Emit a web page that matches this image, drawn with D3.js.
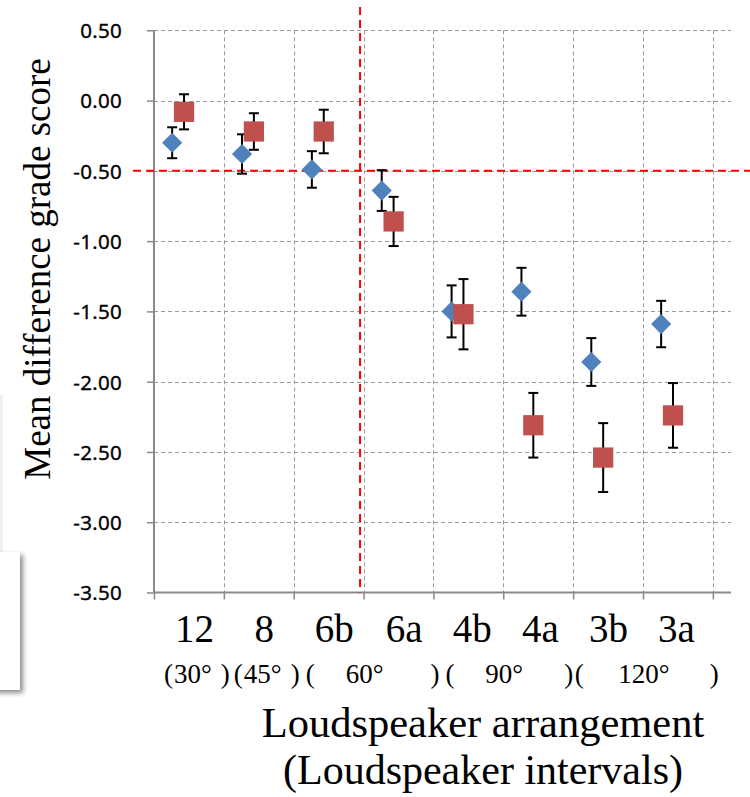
<!DOCTYPE html>
<html>
<head>
<meta charset="utf-8">
<script src="https://cdn.jsdelivr.net/npm/d3@7"></script>
<style>
  body { margin: 0; background: #fff; }
  svg { display: block; }
</style>
</head>
<body>
<div id="chart"></div>
<script>
// chart values
const categories = ["12", "8", "6b", "6a", "4b", "4a", "3b", "3a"];
const intervals = ["30°", "45°", "60°", "90°", "120°"];
const intervalSpans = [[0, 1], [1, 2], [2, 4], [4, 6], [6, 8]];
const blueMeans = [-0.30, -0.38, -0.49, -0.64, -1.50, -1.36, -1.86, -1.59];
const blueErrors = [0.11, 0.14, 0.13, 0.145, 0.185, 0.17, 0.17, 0.165];
const redMeans = [-0.08, -0.22, -0.22, -0.86, -1.52, -2.31, -2.54, -2.24];
const redErrors = [0.125, 0.13, 0.155, 0.175, 0.25, 0.23, 0.245, 0.23];
const yTicks = [0.5, 0, -0.5, -1, -1.5, -2, -2.5, -3, -3.5];
const threshold = -0.5;   // horizontal red line
const splitAt = 2.95;     // vertical red line

function ScoreChart() {
  let params = {
    width: 750,
    height: 797,
    margin: { left: 154, right: 19, top: 30, bottom: 205 }
  };

  function my(selection) {
    let svg = selection.append("svg")
      .attr("width", params.width)
      .attr("height", params.height);

    let defs = svg.append("defs");
    defs.append("filter")
      .attr("id", "shadow")
      .attr("x", "-50%").attr("y", "-50%")
      .attr("width", "200%").attr("height", "200%")
      .append("feDropShadow")
      .attr("dx", 3).attr("dy", 3)
      .attr("stdDeviation", 2.5)
      .attr("flood-color", "#000")
      .attr("flood-opacity", 0.45);

    // leftover box at the left edge of the picture
    svg.append("rect")
      .attr("x", 0).attr("y", 395)
      .attr("width", 3).attr("height", 157)
      .style("fill", "#f1f1f1");
    svg.append("rect")
      .attr("x", -30).attr("y", 552)
      .attr("width", 50).attr("height", 138)
      .style("fill", "#fff")
      .attr("filter", "url(#shadow)");

    let scaleX = d3.scaleLinear()
      .domain([0, 8.26])
      .range([params.margin.left, params.width - params.margin.right]);
    let scaleY = d3.scaleLinear()
      .domain([-3.5, 0.5])
      .range([592.5, params.margin.top + 0.3]);

    // grid
    let grid = svg.append("g").attr("class", "grid")
      .style("stroke", "#9a9a9a")
      .style("stroke-width", 1)
      .style("stroke-dasharray", "4,3");
    grid.selectAll(".hgrid")
      .data(yTicks.filter(d => d > -3.5))
      .enter().append("line")
      .attr("x1", scaleX(0)).attr("x2", scaleX(8.26))
      .attr("y1", d => Math.round(scaleY(d)) + 0.5)
      .attr("y2", d => Math.round(scaleY(d)) + 0.5);
    grid.selectAll(".vgrid")
      .data(d3.range(1, 9))
      .enter().append("line")
      .attr("x1", d => Math.round(scaleX(d)) + 0.5)
      .attr("x2", d => Math.round(scaleX(d)) + 0.5)
      .attr("y1", scaleY(0.5)).attr("y2", scaleY(-3.5));

    // axes
    let fmt = d3.format(".2f");
    let axisLeft = d3.axisLeft(scaleY)
      .tickValues(yTicks)
      .tickSize(7)
      .tickFormat(d => fmt(d).replace("\u2212", "-"));
    let gy = svg.append("g")
      .attr("class", "axisLeft")
      .attr("transform", "translate(" + scaleX(0) + ",0)")
      .call(axisLeft);
    gy.select(".domain").remove();
    gy.selectAll("line").style("stroke", "#8a8a8a").style("stroke-width", 1.5);
    gy.selectAll("text")
      .attr("x", -32)
      .attr("dy", "0.36em")
      .style("font-family", "'Open Sans', sans-serif")
      .style("font-size", "20.5px")
      .style("letter-spacing", "0.3px")
      .style("fill", "#000")
      .style("stroke", "#000")
      .style("stroke-width", 0.45);
    svg.append("line")
      .attr("x1", scaleX(0)).attr("x2", scaleX(0))
      .attr("y1", scaleY(0.5)).attr("y2", scaleY(-3.5))
      .style("stroke", "#8a8a8a").style("stroke-width", 2);

    let axisBottom = d3.axisBottom(scaleX)
      .tickValues(d3.range(0, 9))
      .tickSize(7)
      .tickFormat("");
    let gx = svg.append("g")
      .attr("class", "axisBottom")
      .attr("transform", "translate(0," + scaleY(-3.5) + ")")
      .call(axisBottom);
    gx.select(".domain").remove();
    gx.selectAll("line").style("stroke", "#8a8a8a").style("stroke-width", 1.5);
    svg.append("line")
      .attr("x1", scaleX(0)).attr("x2", scaleX(8.26))
      .attr("y1", scaleY(-3.5)).attr("y2", scaleY(-3.5))
      .style("stroke", "#8a8a8a").style("stroke-width", 2);

    // red reference lines
    svg.append("line")
      .attr("x1", scaleX(-0.3)).attr("x2", params.width)
      .attr("y1", scaleY(threshold)).attr("y2", scaleY(threshold))
      .style("stroke", "#ff0000").style("stroke-width", 2)
      .style("stroke-dasharray", "8,5");
    svg.append("line")
      .attr("x1", scaleX(splitAt)).attr("x2", scaleX(splitAt))
      .attr("y1", 7).attr("y2", scaleY(-3.5))
      .style("stroke", "#ff0000").style("stroke-width", 2)
      .style("stroke-dasharray", "8,5");

    // series with error bars
    let series = [
      { means: blueMeans, errors: blueErrors, shift: 0.26, color: "#4f81bd", shape: d3.symbolDiamond2, size: 260 },
      { means: redMeans, errors: redErrors, shift: 0.43, color: "#c0504d", shape: d3.symbolSquare, size: 410 }
    ];
    series.forEach(s => {
      let g = svg.append("g").attr("class", "series");
      let pts = s.means.map((m, i) => ({ x: i + s.shift, y: m, e: s.errors[i] }));
      let bars = g.selectAll(".err").data(pts).enter().append("g")
        .style("stroke", "#000").style("stroke-width", 2);
      bars.append("line")
        .attr("x1", d => scaleX(d.x)).attr("x2", d => scaleX(d.x))
        .attr("y1", d => scaleY(d.y + d.e)).attr("y2", d => scaleY(d.y - d.e));
      [1, -1].forEach(k => {
        bars.append("line")
          .attr("x1", d => scaleX(d.x) - 5).attr("x2", d => scaleX(d.x) + 5)
          .attr("y1", d => scaleY(d.y + k * d.e)).attr("y2", d => scaleY(d.y + k * d.e));
      });
      g.selectAll(".mark").data(pts).enter().append("path")
        .attr("d", d3.symbol().type(s.shape).size(s.size))
        .attr("transform", d => "translate(" + scaleX(d.x) + "," + scaleY(d.y) + ")")
        .style("fill", s.color);
    });

    // category labels
    let serif = "'Liberation Serif', 'Times New Roman', serif";
    svg.append("g").selectAll("text")
      .data(categories)
      .enter().append("text")
      .text(d => d)
      .attr("x", (d, i) => scaleX(i + 0.58 - 0.025 * Math.max(0, i - 3)))
      .attr("y", 642)
      .attr("text-anchor", "middle")
      .style("font-family", serif)
      .style("font-size", "39px");

    // interval labels in brackets
    let iv = svg.append("g")
      .style("font-family", serif)
      .style("font-size", "27px");
    intervals.forEach((t, i) => {
      let a = intervalSpans[i][0], b = intervalSpans[i][1];
      let wide = b - a > 1;
      let open = iv.append("text").text("(")
        .attr("x", scaleX(a) + (i === 4 ? 1.5 : (wide ? 12 : 10)))
        .attr("y", 683);
      let ob = open.node().getBBox();
      let label = iv.append("text").text(t)
        .attr("y", 683);
      if (wide) {
        label.attr("x", (scaleX(a) + scaleX(b)) / 2 + 1).attr("text-anchor", "middle");
      } else {
        label.attr("x", ob.x + ob.width + 1);
      }
      iv.append("text").text(")")
        .attr("x", scaleX(b) + (i === 3 ? 0 : 6))
        .attr("y", 683)
        .attr("text-anchor", "end");
    });

    // axis titles
    svg.append("text")
      .text("Loudspeaker arrangement")
      .attr("x", 483).attr("y", 737)
      .attr("text-anchor", "middle")
      .style("font-family", serif)
      .style("font-size", "42.5px");
    svg.append("text")
      .text("(Loudspeaker intervals)")
      .attr("x", 483).attr("y", 784)
      .attr("text-anchor", "middle")
      .style("font-family", serif)
      .style("font-size", "42px");
    svg.append("text")
      .text("Mean difference grade score")
      .attr("transform", "translate(50,269) rotate(-90)")
      .attr("text-anchor", "middle")
      .style("font-family", serif)
      .style("font-size", "37px");
  }

  return my;
}

d3.select("#chart").call(ScoreChart());
</script>
</body>
</html>
